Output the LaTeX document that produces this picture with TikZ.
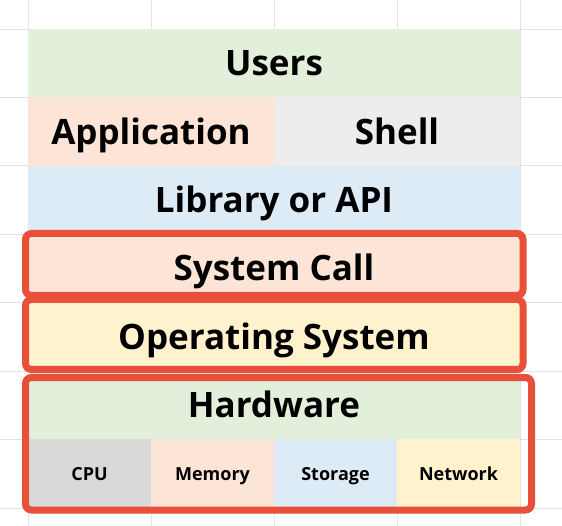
\documentclass[tikz,border=0pt]{standalone}
\usepackage{fontspec}
\setmainfont{Open Sans}
\usetikzlibrary{positioning}
\definecolor{usergreen}{HTML}{E2EFDA}
\definecolor{apppeach}{HTML}{FCE4D6}
\definecolor{shellgray}{HTML}{EDEDED}
\definecolor{libblue}{HTML}{DDEBF7}
\definecolor{osyellow}{HTML}{FFF2CC}
\definecolor{cpugray}{HTML}{D9D9D9}
\definecolor{framered}{HTML}{E8503A}
\definecolor{gridgray}{HTML}{E3E3E3}

\begin{document}
\begin{tikzpicture}[x=1pt, y=-1pt,
  font=\fontsize{35}{40}\selectfont\bfseries,
  layerbox/.style={inner sep=0pt, outer sep=0pt, minimum height=68.4pt, minimum width=492pt,
    text height=25pt, text depth=0pt},
  halfbox/.style={layerbox, minimum width=246pt},
  partbox/.style={layerbox, minimum width=123pt, text height=13pt,
    font=\fontsize{18}{21}\selectfont\bfseries},
  redframe/.style={draw=framered, line width=7pt, rounded corners=6pt}
]
\useasboundingbox (0,0) rectangle (562,526);
% sheet grid
\foreach \gx in {28,151,274,397,520}
  \draw[gridgray, line width=0.8pt] (\gx,0) -- (\gx,526);
\foreach \gy in {29,97.4,165.9,234.3,302.7,371.1,439.6,508}
  \draw[gridgray, line width=0.8pt] (0,\gy) -- (562,\gy);

% layers
\node[layerbox, fill=usergreen, anchor=north west] (users) at (28,29) {Users};
\node[halfbox, fill=apppeach, below right=0pt of users.south west] (app) {Application};
\node[halfbox, fill=shellgray, right=0pt of app] (shell) {Shell};
\node[layerbox, fill=libblue, below right=0pt of app.south west] (lib) {Library or API};
\node[layerbox, fill=apppeach, below=0pt of lib] (syscall) {System Call};
\node[layerbox, fill=osyellow, below=0pt of syscall] (os) {Operating System};
\node[layerbox, fill=usergreen, below=0pt of os] (hw) {Hardware};
\node[partbox, fill=cpugray, below right=0pt of hw.south west] (cpu) {CPU};
\node[partbox, fill=apppeach, right=0pt of cpu] (mem) {Memory};
\node[partbox, fill=libblue, right=0pt of mem] (storage) {Storage};
\node[partbox, fill=osyellow, right=0pt of storage] (net) {Network};

% highlight frames
\draw[redframe] (25.5,233.5) rectangle (523,295.5);
\draw[redframe] (25.5,299.5) rectangle (523,369.5);
\draw[redframe] (25.5,377.5) rectangle (531.5,510);
\end{tikzpicture}
\end{document}
